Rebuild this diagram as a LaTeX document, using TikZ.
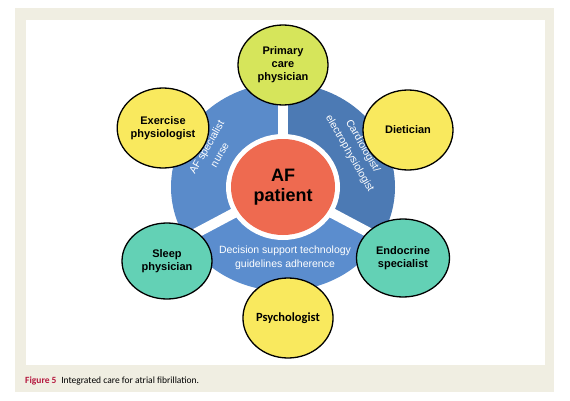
\documentclass[tikz,border=0pt]{standalone}
\usepackage{fontspec}
\usetikzlibrary{calc,shapes.geometric}
\setmainfont{Liberation Sans}
\newfontfamily\calib{Carlito}
\definecolor{beige}{HTML}{F0EEE2}
\definecolor{segA}{HTML}{5A8BCA}
\definecolor{segB}{HTML}{4C7AB4}
\definecolor{segC}{HTML}{5B8DCE}
\definecolor{afred}{HTML}{EE6A50}
\definecolor{ylw}{HTML}{F9E95E}
\definecolor{lime}{HTML}{D6E55B}
\definecolor{teal}{HTML}{63D1B5}
\definecolor{capred}{HTML}{B5183E}
\begin{document}
\begin{tikzpicture}[x=1pt,y=1pt,
  role/.style={ellipse, draw=black, line width=1.3pt, minimum width=90pt, minimum height=80pt, inner sep=0pt, align=center, font=\fontsize{11}{13}\selectfont\bfseries},
  seglabel/.style={text=white, align=center, font=\fontsize{10.5}{13.5}\selectfont},
  rotlabel/.style={seglabel, font=\fontsize{10.5}{15}\selectfont},
  gap/.style={white, line width=10pt}]
\useasboundingbox (0,0) rectangle (570,400);
\fill[beige] (15,8) rectangle (554,392);
\fill[white] (26,35) rectangle (545,380);
\coordinate (c) at (283,213);
% ring sectors
\fill[segA] (c) -- ++(0,104) arc[start angle=90, end angle=210, x radius=112, y radius=104] -- cycle;
\fill[segB] (c) -- ++(0,104) arc[start angle=90, end angle=-30, x radius=112, y radius=104] -- cycle;
\fill[segC] (c) -- ($(c)+(210:112 and 104)$) arc[start angle=210, end angle=330, x radius=112, y radius=104] -- cycle;
\coordinate (g1) at ($(c)+(90:125 and 115)$);
\coordinate (g2) at ($(c)+(210:125 and 115)$);
\coordinate (g3) at ($(c)+(330:125 and 115)$);
\draw[gap] (c) -- (g1);
\draw[gap] (c) -- (g2);
\draw[gap] (c) -- (g3);
\fill[white] (c) ellipse[x radius=57, y radius=53];
\node[ellipse, fill=afred, minimum width=104pt, minimum height=96pt, inner sep=0pt, align=center, font=\fontsize{18}{20}\selectfont\bfseries] (af) at (c) {AF\\patient};
% segment labels
\node[rotlabel, rotate=60] (nurse) at (213,249) {AF specialist\\nurse};
\node[rotlabel, rotate=-60] (cardio) at (356,250) {Cardiologist/\\electrophysiologist};
\node[seglabel] (dst) at (285,142) {Decision support technology\\guidelines adherence};
% outer roles
\node[role, fill=lime] (pcp) at (283,335) {Primary\\care\\physician};
\node[role, fill=ylw] (ex) at (163,272) {Exercise\\physiologist};
\node[role, fill=ylw] (diet) at (408,270) {Dietician};
\node[role, fill=teal, minimum height=76pt] (sleep) at (167,139) {Sleep\\physician};
\node[role, fill=teal, minimum width=93pt, minimum height=78pt] (endo) at (403,142) {Endocrine\\specialist};
\node[role, fill=ylw, font=\calib\fontsize{12.5}{14}\selectfont\bfseries] (psy) at (288,82) {Psychologist};
% caption
\node[anchor=base west, inner sep=0pt, font=\calib\fontsize{9.5}{11}\selectfont] (cap) at (25,17) {\textcolor{capred}{\bfseries Figure 5}\enspace Integrated care for atrial fibrillation.};
\end{tikzpicture}
\end{document}
